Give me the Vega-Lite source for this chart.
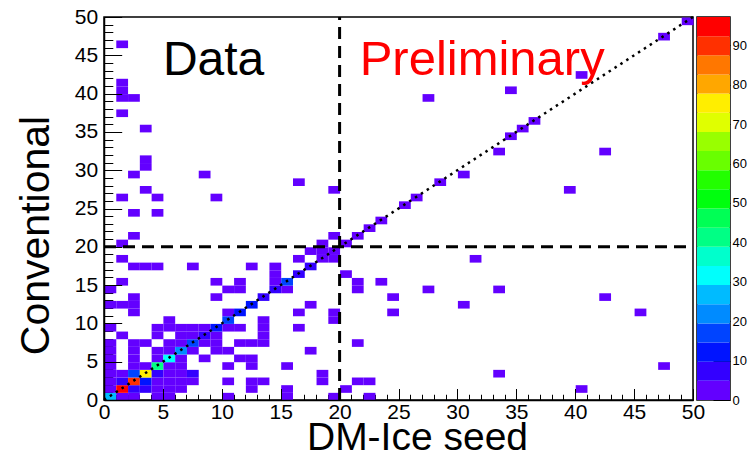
{
  "$schema": "https://vega.github.io/schema/vega-lite/v6.json",
  "autosize": "none",
  "padding": {"left": 104, "top": 17, "right": 646, "bottom": 441},
  "background": "white",
  "bounds": "flush",
  "spacing": 4,
  "config": {
    "font": "Liberation Sans",
    "view": {"stroke": "black", "strokeWidth": 1.5},
    "axis": {"grid": false, "domainColor": "black", "domainWidth": 1.5, "tickColor": "black", "tickWidth": 1, "labelColor": "black", "titleColor": "black", "labelFont": "Liberation Sans", "titleFont": "Liberation Sans", "titleFontWeight": "normal", "labelFlush": false, "labelOverlap": false}
  },
  "resolve": {"scale": {"color": "shared", "x": "independent", "y": "independent"}},
  "hconcat": [
    {
      "width": 589,
      "height": 383,
      "resolve": {"axis": {"x": "independent", "y": "independent"}},
      "layer": [
        {
          "data": {"values": [
            {"x":0,"y":0,"v":27},{"x":1,"y":0,"v":2},{"x":2,"y":0,"v":2},{"x":4,"y":0,"v":2},{"x":5,"y":0,"v":2},{"x":10,"y":0,"v":1},{"x":15,"y":0,"v":1},{"x":19,"y":0,"v":1},{"x":22,"y":0,"v":1},
            {"x":0,"y":1,"v":2},{"x":1,"y":1,"v":96},{"x":2,"y":1,"v":7},{"x":3,"y":1,"v":6},{"x":4,"y":1,"v":2},{"x":5,"y":1,"v":2},{"x":6,"y":1,"v":1},{"x":12,"y":1,"v":1},{"x":15,"y":1,"v":1},{"x":20,"y":1,"v":1},{"x":40,"y":1,"v":1},
            {"x":0,"y":2,"v":2},{"x":1,"y":2,"v":7},{"x":2,"y":2,"v":90},{"x":3,"y":2,"v":12},{"x":4,"y":2,"v":3},{"x":5,"y":2,"v":2},{"x":6,"y":2,"v":2},{"x":7,"y":2,"v":1},{"x":10,"y":2,"v":1},{"x":12,"y":2,"v":1},{"x":13,"y":2,"v":1},{"x":18,"y":2,"v":1},{"x":21,"y":2,"v":1},{"x":22,"y":2,"v":1},
            {"x":0,"y":3,"v":2},{"x":1,"y":3,"v":3},{"x":2,"y":3,"v":15},{"x":3,"y":3,"v":75},{"x":4,"y":3,"v":6},{"x":5,"y":3,"v":3},{"x":6,"y":3,"v":2},{"x":7,"y":3,"v":5},{"x":18,"y":3,"v":1},{"x":33,"y":3,"v":1},
            {"x":0,"y":4,"v":1},{"x":2,"y":4,"v":2},{"x":3,"y":4,"v":3},{"x":4,"y":4,"v":41},{"x":5,"y":4,"v":3},{"x":6,"y":4,"v":2},{"x":10,"y":4,"v":1},{"x":12,"y":4,"v":1},{"x":15,"y":4,"v":1},{"x":47,"y":4,"v":1},
            {"x":0,"y":5,"v":1},{"x":2,"y":5,"v":2},{"x":4,"y":5,"v":2},{"x":5,"y":5,"v":32},{"x":6,"y":5,"v":2},{"x":8,"y":5,"v":1},{"x":11,"y":5,"v":1},{"x":12,"y":5,"v":1},
            {"x":0,"y":6,"v":1},{"x":2,"y":6,"v":1},{"x":4,"y":6,"v":2},{"x":5,"y":6,"v":2},{"x":6,"y":6,"v":21},{"x":7,"y":6,"v":2},{"x":9,"y":6,"v":1},{"x":10,"y":6,"v":1},{"x":17,"y":6,"v":1},
            {"x":0,"y":7,"v":1},{"x":2,"y":7,"v":1},{"x":3,"y":7,"v":1},{"x":5,"y":7,"v":1},{"x":6,"y":7,"v":2},{"x":7,"y":7,"v":16},{"x":8,"y":7,"v":2},{"x":9,"y":7,"v":1},{"x":11,"y":7,"v":1},{"x":12,"y":7,"v":1},{"x":13,"y":7,"v":1},{"x":21,"y":7,"v":1},
            {"x":1,"y":8,"v":1},{"x":4,"y":8,"v":1},{"x":6,"y":8,"v":1},{"x":7,"y":8,"v":2},{"x":8,"y":8,"v":8},{"x":9,"y":8,"v":1},{"x":13,"y":8,"v":1},
            {"x":0,"y":9,"v":1},{"x":4,"y":9,"v":1},{"x":5,"y":9,"v":1},{"x":6,"y":9,"v":2},{"x":7,"y":9,"v":1},{"x":8,"y":9,"v":1},{"x":9,"y":9,"v":12},{"x":10,"y":9,"v":1},{"x":11,"y":9,"v":1},{"x":13,"y":9,"v":1},{"x":16,"y":9,"v":1},
            {"x":5,"y":10,"v":1},{"x":10,"y":10,"v":15},{"x":13,"y":10,"v":1},{"x":19,"y":10,"v":1},
            {"x":2,"y":11,"v":1},{"x":10,"y":11,"v":2},{"x":11,"y":11,"v":12},{"x":16,"y":11,"v":1},{"x":19,"y":11,"v":1},{"x":24,"y":11,"v":1},{"x":45,"y":11,"v":1},
            {"x":0,"y":12,"v":1},{"x":1,"y":12,"v":1},{"x":2,"y":12,"v":1},{"x":12,"y":12,"v":14},{"x":17,"y":12,"v":1},{"x":30,"y":12,"v":1},
            {"x":2,"y":13,"v":1},{"x":9,"y":13,"v":1},{"x":13,"y":13,"v":8},{"x":24,"y":13,"v":1},{"x":42,"y":13,"v":1},
            {"x":0,"y":14,"v":1},{"x":10,"y":14,"v":1},{"x":11,"y":14,"v":1},{"x":14,"y":14,"v":7},{"x":15,"y":14,"v":1},{"x":21,"y":14,"v":1},{"x":27,"y":14,"v":1},{"x":33,"y":14,"v":1},
            {"x":1,"y":15,"v":1},{"x":9,"y":15,"v":1},{"x":11,"y":15,"v":1},{"x":14,"y":15,"v":1},{"x":15,"y":15,"v":16},{"x":21,"y":15,"v":1},{"x":23,"y":15,"v":1},
            {"x":14,"y":16,"v":1},{"x":16,"y":16,"v":7},{"x":20,"y":16,"v":1},
            {"x":2,"y":17,"v":1},{"x":3,"y":17,"v":1},{"x":4,"y":17,"v":1},{"x":7,"y":17,"v":1},{"x":12,"y":17,"v":1},{"x":14,"y":17,"v":1},{"x":17,"y":17,"v":6},
            {"x":1,"y":18,"v":1},{"x":16,"y":18,"v":1},{"x":18,"y":18,"v":3},{"x":19,"y":18,"v":1},{"x":31,"y":18,"v":1},
            {"x":17,"y":19,"v":1},{"x":18,"y":19,"v":1},{"x":19,"y":19,"v":2},
            {"x":1,"y":20,"v":1},{"x":18,"y":20,"v":1},{"x":20,"y":20,"v":2},
            {"x":2,"y":21,"v":1},{"x":19,"y":21,"v":1},{"x":21,"y":21,"v":2},
            {"x":22,"y":22,"v":1},{"x":23,"y":23,"v":1},
            {"x":2,"y":24,"v":1},{"x":4,"y":24,"v":1},
            {"x":25,"y":25,"v":1},
            {"x":1,"y":26,"v":1},{"x":4,"y":26,"v":1},{"x":9,"y":26,"v":1},{"x":26,"y":26,"v":1},
            {"x":3,"y":27,"v":1},{"x":19,"y":27,"v":1},{"x":39,"y":27,"v":1},
            {"x":16,"y":28,"v":1},{"x":28,"y":28,"v":1},
            {"x":2,"y":29,"v":1},{"x":8,"y":29,"v":1},{"x":30,"y":29,"v":1},
            {"x":3,"y":30,"v":1},{"x":3,"y":31,"v":1},
            {"x":33,"y":32,"v":1},{"x":42,"y":32,"v":1},
            {"x":34,"y":34,"v":1},{"x":3,"y":35,"v":1},{"x":35,"y":35,"v":1},{"x":36,"y":36,"v":1},
            {"x":1,"y":37,"v":1},
            {"x":1,"y":39,"v":1},{"x":2,"y":39,"v":1},{"x":27,"y":39,"v":1},
            {"x":1,"y":40,"v":1},{"x":34,"y":40,"v":1},{"x":1,"y":41,"v":1},
            {"x":40,"y":42,"v":1},{"x":1,"y":46,"v":1},{"x":47,"y":47,"v":1},{"x":49,"y":49,"v":1}
          ]},
          "mark": {"type": "rect"},
          "encoding": {
            "x": {"field": "x", "type": "quantitative", "bin": {"binned": true, "step": 1},
                  "scale": {"domain": [0, 50], "nice": false, "zero": false},
                  "axis": {"values": [0,5,10,15,20,25,30,35,40,45,50], "tickSize": -11.5, "labelFontSize": 21, "labelPadding": 13, "format": "d",
                           "title": "DM-Ice seed", "titleFontSize": 39, "titleX": 313, "titleY": 49, "titleBaseline": "alphabetic", "titleAnchor": null, "titleAlign": "center"}},
            "y": {"field": "y", "type": "quantitative", "bin": {"binned": true, "step": 1},
                  "scale": {"domain": [0, 50], "nice": false, "zero": false},
                  "axis": {"values": [0,5,10,15,20,25,30,35,40,45,50], "tickSize": -17.7, "labelFontSize": 21, "labelPadding": 24, "format": "d",
                           "title": "Conventional", "titleFontSize": 41, "titleX": -56, "titleY": 218, "titleAngle": -90, "titleBaseline": "alphabetic", "titleAnchor": null, "titleAlign": "center"}},
            "color": {"field": "v", "type": "quantitative",
                      "scale": {"type": "quantize", "domain": [0, 97.2], "nice": false, "zero": true,
                                "range": ["#6300ff","#3300ff","#0014ff","#0044ff","#008bff","#00bbff","#00fffc","#00ffcc","#00ff85","#00ff55","#00ff0e","#22ff00","#69ff00","#99ff00","#e0ff00","#ffee00","#ffa700","#ff7700","#ff3000","#ff0000"]},
                      "legend": null}
          }
        },
        {
          "data": {"values": [{"x": 0, "y": 0}]},
          "mark": {"type": "point", "opacity": 0},
          "encoding": {
            "x": {"field": "x", "type": "quantitative", "axis": {"orient": "bottom", "values": [0,1,2,3,4,5,6,7,8,9,10,11,12,13,14,15,16,17,18,19,20,21,22,23,24,25,26,27,28,29,30,31,32,33,34,35,36,37,38,39,40,41,42,43,44,45,46,47,48,49,50], "tickSize": -5.75, "labels": false, "domain": false, "title": null}},
            "y": {"field": "y", "type": "quantitative", "axis": {"orient": "left", "values": [0,1,2,3,4,5,6,7,8,9,10,11,12,13,14,15,16,17,18,19,20,21,22,23,24,25,26,27,28,29,30,31,32,33,34,35,36,37,38,39,40,41,42,43,44,45,46,47,48,49,50], "tickSize": -8.8, "labels": false, "domain": false, "title": null}}
          }
        },
        {
          "data": {"values": [{"x": 0, "y": 0, "x2": 50, "y2": 50}]},
          "mark": {"type": "rule", "color": "black", "strokeWidth": 2.5, "strokeDash": [2.5, 4.5]},
          "encoding": {
            "x": {"field": "x", "type": "quantitative", "axis": null},
            "y": {"field": "y", "type": "quantitative", "axis": null},
            "x2": {"field": "x2"},
            "y2": {"field": "y2"}
          }
        },
        {
          "data": {"values": [{"x": 20, "y": 0, "x2": 20, "y2": 50}, {"x": 0, "y": 20, "x2": 50, "y2": 20}]},
          "mark": {"type": "rule", "color": "black", "strokeWidth": 3, "strokeDash": [12, 7]},
          "encoding": {
            "x": {"field": "x", "type": "quantitative", "axis": null},
            "y": {"field": "y", "type": "quantitative", "axis": null},
            "x2": {"field": "x2"},
            "y2": {"field": "y2"}
          }
        },
        {
          "data": {"values": [{"label": "Data", "x": 5.0, "y": 42.4}]},
          "mark": {"type": "text", "color": "black", "fontSize": 48, "font": "Liberation Sans", "align": "left", "baseline": "alphabetic"},
          "encoding": {
            "x": {"field": "x", "type": "quantitative", "axis": null},
            "y": {"field": "y", "type": "quantitative", "axis": null},
            "text": {"field": "label"}
          }
        },
        {
          "data": {"values": [{"label": "Preliminary", "x": 21.7, "y": 42.4}]},
          "mark": {"type": "text", "color": "#ff0000", "fontSize": 49, "font": "Liberation Sans", "align": "left", "baseline": "alphabetic"},
          "encoding": {
            "x": {"field": "x", "type": "quantitative", "axis": null},
            "y": {"field": "y", "type": "quantitative", "axis": null},
            "text": {"field": "label"}
          }
        }
      ]
    },
    {
      "width": 33,
      "height": 383,
      "data": {"values": [
        {"lo": 0, "hi": 4.86, "z": 2.43},{"lo": 4.86, "hi": 9.72, "z": 7.29},{"lo": 9.72, "hi": 14.58, "z": 12.15},{"lo": 14.58, "hi": 19.44, "z": 17.01},
        {"lo": 19.44, "hi": 24.3, "z": 21.87},{"lo": 24.3, "hi": 29.16, "z": 26.73},{"lo": 29.16, "hi": 34.02, "z": 31.59},{"lo": 34.02, "hi": 38.88, "z": 36.45},
        {"lo": 38.88, "hi": 43.74, "z": 41.31},{"lo": 43.74, "hi": 48.6, "z": 46.17},{"lo": 48.6, "hi": 53.46, "z": 51.03},{"lo": 53.46, "hi": 58.32, "z": 55.89},
        {"lo": 58.32, "hi": 63.18, "z": 60.75},{"lo": 63.18, "hi": 68.04, "z": 65.61},{"lo": 68.04, "hi": 72.9, "z": 70.47},{"lo": 72.9, "hi": 77.76, "z": 75.33},
        {"lo": 77.76, "hi": 82.62, "z": 80.19},{"lo": 82.62, "hi": 87.48, "z": 85.05},{"lo": 87.48, "hi": 92.34, "z": 89.91},{"lo": 92.34, "hi": 97.2, "z": 94.77}
      ]},
      "mark": {"type": "rect"},
      "encoding": {
        "y": {"field": "lo", "type": "quantitative", "scale": {"domain": [0, 97.2], "nice": false, "zero": false},
              "axis": {"orient": "right", "values": [0,10,20,30,40,50,60,70,80,90], "tickSize": -17, "labelFontSize": 13, "labelPadding": 19, "title": null, "domain": false}},
        "y2": {"field": "hi"},
        "color": {"field": "z", "type": "quantitative",
                  "scale": {"type": "quantize", "domain": [0, 97.2], "nice": false, "zero": true,
                            "range": ["#6300ff","#3300ff","#0014ff","#0044ff","#008bff","#00bbff","#00fffc","#00ffcc","#00ff85","#00ff55","#00ff0e","#22ff00","#69ff00","#99ff00","#e0ff00","#ffee00","#ffa700","#ff7700","#ff3000","#ff0000"]},
                  "legend": null}
      }
    }
  ]
}
